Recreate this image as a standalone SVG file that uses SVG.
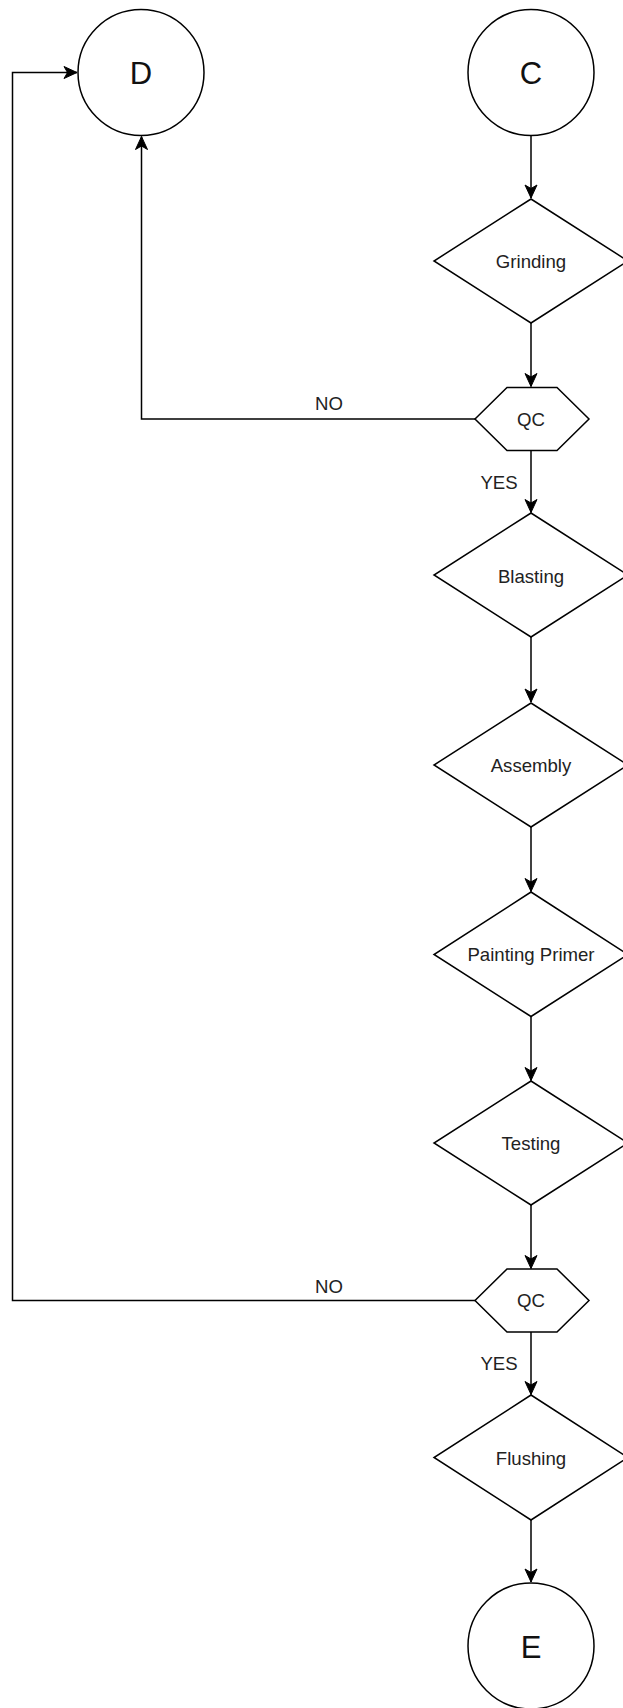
<svg xmlns="http://www.w3.org/2000/svg" width="623" height="1708" viewBox="0 0 623 1708">
<style>
.shape{fill:#ffffff;stroke:#000000;stroke-width:1.5}
.edge{fill:none;stroke:#000000;stroke-width:1.5}
.big{font-family:"Liberation Sans",Arial,sans-serif;font-size:31px;fill:#111111;text-anchor:middle;dominant-baseline:central}
.lbl{font-family:"Liberation Sans",Arial,sans-serif;font-size:18.6px;fill:#222222;text-anchor:middle;dominant-baseline:central}
</style>
<defs>
<marker id="arr" markerUnits="userSpaceOnUse" markerWidth="16" markerHeight="16" viewBox="-14 -8 16 16" refX="0" refY="0" orient="auto">
<path d="M0,0 L-13,-6 L-9.5,0 L-13,6 Z" fill="#000000" stroke="#000000" stroke-width="1"/>
</marker>
</defs>
<rect width="623" height="1708" fill="#ffffff"/>
<g id="connectors">
<path class="edge" d="M531,135.5 L531,198" marker-end="url(#arr)"/>
<path class="edge" d="M531,323 L531,386.5" marker-end="url(#arr)"/>
<path class="edge" d="M475,419 L141.5,419 L141.5,136.5" marker-end="url(#arr)"/>
<path class="edge" d="M531,450.5 L531,512.5" marker-end="url(#arr)"/>
<path class="edge" d="M531,637 L531,702" marker-end="url(#arr)"/>
<path class="edge" d="M531,827 L531,891.5" marker-end="url(#arr)"/>
<path class="edge" d="M531,1016.5 L531,1080.5" marker-end="url(#arr)"/>
<path class="edge" d="M531,1205 L531,1268.5" marker-end="url(#arr)"/>
<path class="edge" d="M475,1300.5 L12.5,1300.5 L12.5,72.5 L77,72.5" marker-end="url(#arr)"/>
<path class="edge" d="M531,1332 L531,1394.5" marker-end="url(#arr)"/>
<path class="edge" d="M531,1520 L531,1582" marker-end="url(#arr)"/>
<text class="lbl" x="329" y="403">NO</text>
<text class="lbl" x="499" y="482">YES</text>
<text class="lbl" x="329" y="1286">NO</text>
<text class="lbl" x="499" y="1363">YES</text>
</g>
<g id="node-D">
<circle class="shape" cx="141" cy="72.5" r="63"/>
<text class="big" x="141" y="73">D</text>
</g>
<g id="node-C">
<circle class="shape" cx="531" cy="72.5" r="63"/>
<text class="big" x="531" y="73">C</text>
</g>
<g id="node-grinding">
<polygon class="shape" points="531,199 628,261 531,323 434,261"/>
<text class="lbl" x="531" y="261">Grinding</text>
</g>
<g id="node-qc1">
<polygon class="shape" points="475,419 507,387.5 557,387.5 589,419 557,450.5 507,450.5"/>
<text class="lbl" x="531" y="419">QC</text>
</g>
<g id="node-blasting">
<polygon class="shape" points="531,513 628,575 531,637 434,575"/>
<text class="lbl" x="531" y="576">Blasting</text>
</g>
<g id="node-assembly">
<polygon class="shape" points="531,703 628,765 531,827 434,765"/>
<text class="lbl" x="531" y="765">Assembly</text>
</g>
<g id="node-painting">
<polygon class="shape" points="531,892 628,954.5 531,1016.5 434,954.5"/>
<text class="lbl" x="531" y="954">Painting Primer</text>
</g>
<g id="node-testing">
<polygon class="shape" points="531,1081 628,1143 531,1205 434,1143"/>
<text class="lbl" x="531" y="1143">Testing</text>
</g>
<g id="node-qc2">
<polygon class="shape" points="475,1300.5 507,1269 557,1269 589,1300.5 557,1332 507,1332"/>
<text class="lbl" x="531" y="1300.5">QC</text>
</g>
<g id="node-flushing">
<polygon class="shape" points="531,1395 628,1457.5 531,1520 434,1457.5"/>
<text class="lbl" x="531" y="1458">Flushing</text>
</g>
<g id="node-E">
<circle class="shape" cx="531" cy="1646" r="63"/>
<text class="big" x="531" y="1647">E</text>
</g>
</svg>
